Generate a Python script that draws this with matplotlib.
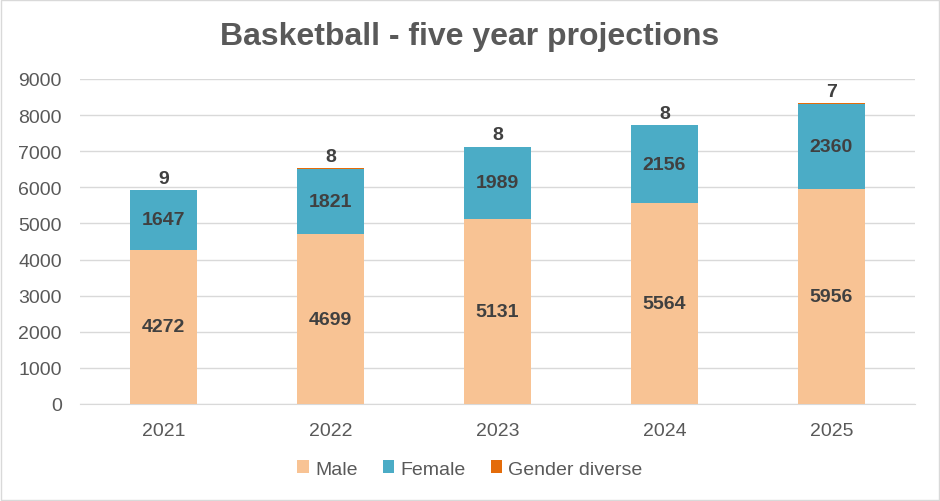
import matplotlib
matplotlib.use("Agg")
import matplotlib.pyplot as plt
import numpy as np

years = ["2021", "2022", "2023", "2024", "2025"]
male = [4272, 4699, 5131, 5564, 5956]
female = [1647, 1821, 1989, 2156, 2360]
diverse = [9, 8, 8, 8, 7]

plt.rcParams['font.family'] = ['Liberation Sans', 'DejaVu Sans']

fig = plt.figure(figsize=(9.4, 5.02), dpi=100)
ax = fig.add_axes([80 / 940, 1 - 405 / 502, 835 / 940, 325 / 502])

x = np.arange(len(years))
w = 0.4
male_c = "#F8C394"
female_c = "#4BACC6"
div_c = "#E46C0A"

ax.bar(x, male, w, color=male_c, label="Male", zorder=3)
ax.bar(x, female, w, bottom=male, color=female_c, label="Female", zorder=3)
tops = np.array(male) + np.array(female)
ax.bar(x, diverse, w, bottom=tops, color=div_c, label="Gender diverse", zorder=3)

lab = dict(ha="center", va="center", fontsize=14, fontweight="bold", color="#404040", zorder=4)
for i in range(len(years)):
    ax.text(x[i], male[i] / 2, str(male[i]), **lab)
    ax.text(x[i], male[i] + female[i] / 2, str(female[i]), **lab)
    ax.text(x[i], tops[i] + diverse[i] + 330, str(diverse[i]), **lab)

ax.set_xlim(-0.5, len(years) - 0.5)
ax.set_ylim(0, 9000)
ax.set_yticks(np.arange(0, 9001, 1000))
ax.set_xticks(x)
ax.set_xticklabels(years)
ax.yaxis.grid(True, color="#D9D9D9", linewidth=1, zorder=0)
ax.tick_params(axis="both", length=0, labelsize=14, labelcolor="#595959")
ax.tick_params(axis="x", pad=13)
ax.tick_params(axis="y", pad=13)
for s in ["top", "right", "left"]:
    ax.spines[s].set_visible(False)
ax.spines["bottom"].set_color("#D9D9D9")

fig.text(0.5, 1 - 37 / 502, "Basketball - five year projections", ha="center", va="center",
         fontsize=23, fontweight="bold", color="#595959")

leg = fig.legend(loc="center", bbox_to_anchor=(0.5, 1 - 470 / 502), ncol=3, frameon=False,
                 fontsize=14, handlelength=0.6, handleheight=0.6, handletextpad=0.3, columnspacing=1.3)
for t in leg.get_texts():
    t.set_color("#595959")

fig.patches.append(plt.Rectangle((0.001, 0.001), 0.998, 0.998, transform=fig.transFigure,
                                 fill=False, edgecolor="#D9D9D9", linewidth=1))

fig.savefig("out.png", dpi=100)
